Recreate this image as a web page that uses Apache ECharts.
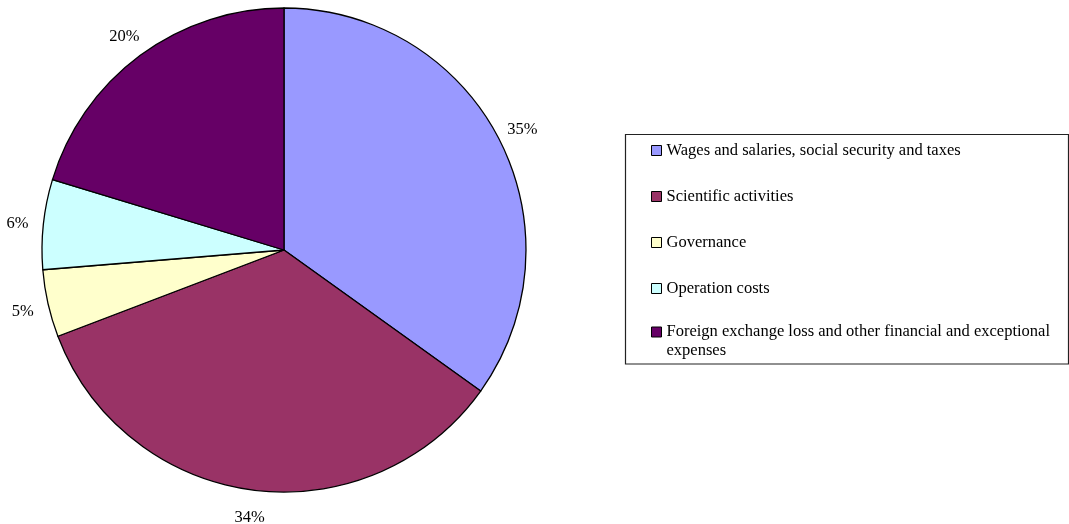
<!DOCTYPE html>
<html>
<head>
<meta charset="utf-8">
<script src="https://cdn.jsdelivr.net/npm/echarts@6/dist/echarts.min.js"></script>
<style>
html,body{margin:0;padding:0;background:#fff;}
#chart{width:1069px;height:524px;}
</style>
</head>
<body>
<div id="chart"></div>
<script>
var categories = [
  'Wages and salaries, social security and taxes',
  'Scientific activities',
  'Governance',
  'Operation costs',
  'Foreign exchange loss and other financial and exceptional expenses'
];
var values = [34.9, 34.3, 4.5, 6.0, 20.3];
var labels = ['35%', '34%', '5%', '6%', '20%'];
var colors = ['#9999FF', '#993366', '#FFFFCC', '#CCFFFF', '#660066'];

var FONT = 'Liberation Serif, Times New Roman, serif';
var chart = echarts.init(document.getElementById('chart'));

var pieData = categories.map(function (c, i) {
  return { name: c, value: values[i], itemStyle: { color: colors[i] } };
});
var labelData = categories.map(function (c, i) {
  return { name: c, value: values[i], label: { formatter: labels[i] } };
});

chart.setOption({
  animation: false,
  backgroundColor: '#fff',
  graphic: [{
    type: 'rect',
    shape: { x: 625.5, y: 134.5, width: 443, height: 229.5 },
    style: { fill: 'none', stroke: '#222', lineWidth: 1.2 },
    silent: true
  }],
  legend: [{
    orient: 'vertical',
    left: 651,
    top: 142,
    padding: 0,
    itemWidth: 10,
    itemHeight: 10,
    itemGap: 29,
    icon: 'rect',
    data: categories.slice(0, 4),
    itemStyle: { borderColor: '#000', borderWidth: 1 },
    textStyle: { fontFamily: FONT, fontSize: 16.5, color: '#000', lineHeight: 16 }
  }, {
    orient: 'vertical',
    left: 651,
    top: 322.5,
    padding: 0,
    itemWidth: 10,
    itemHeight: 29,
    icon: 'path://M0,0L10,0L10,10L0,10Z M0,29L0,29',
    data: categories.slice(4),
    itemStyle: { borderColor: '#000', borderWidth: 1 },
    textStyle: { fontFamily: FONT, fontSize: 16.5, color: '#000', lineHeight: 19,
      width: 395, overflow: 'break' }
  }],
  series: [{
    type: 'pie',
    center: [284, 250],
    radius: 242,
    startAngle: 90,
    clockwise: true,
    data: pieData,
    label: { show: false },
    labelLine: { show: false },
    itemStyle: { borderColor: '#000', borderWidth: 1.3 },
    emphasis: { scale: false }
  }, {
    type: 'pie',
    center: [284, 250],
    radius: [255, 275],
    startAngle: 90,
    clockwise: true,
    silent: true,
    data: labelData,
    itemStyle: { color: 'rgba(0,0,0,0)', borderWidth: 0 },
    label: { show: true, position: 'inside', fontFamily: FONT, fontSize: 16.5, color: '#000', offset: [0, 2] },
    labelLine: { show: false },
    emphasis: { disabled: true }
  }]
});
</script>
</body>
</html>
